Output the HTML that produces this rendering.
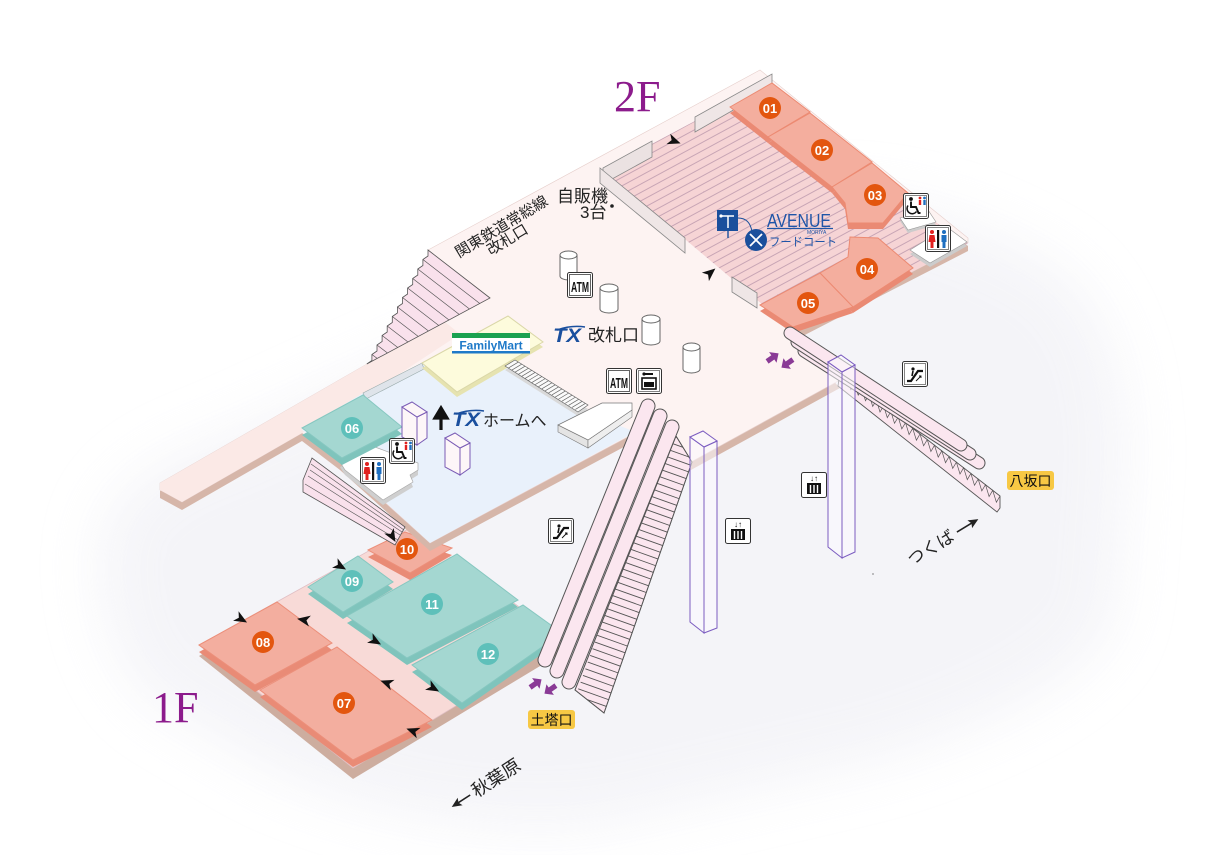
<!DOCTYPE html>
<html><head><meta charset="utf-8">
<style>
html,body{margin:0;padding:0;background:#fff;width:1224px;height:855px;overflow:hidden}
svg{display:block}
text{font-family:"Liberation Sans","Noto Sans CJK JP",sans-serif}
</style></head><body>
<svg width="1224" height="855" viewBox="0 0 1224 855" xmlns="http://www.w3.org/2000/svg">
<defs>
 <filter id="bl" x="-30%" y="-30%" width="160%" height="160%"><feGaussianBlur stdDeviation="28"/></filter>
 <pattern id="fc" width="10" height="7.4" patternUnits="userSpaceOnUse" patternTransform="rotate(-28.4)">
  <rect width="10" height="7.4" fill="#f6d4d5"/><line x1="0" y1="0.5" x2="10" y2="0.5" stroke="#c3a0b2" stroke-width="0.9"/>
 </pattern>
 <clipPath id="esc1"><polygon points="676,436 692,462 604,713 575,690"/></clipPath>
 <path id="dart" d="M7,0 L-6,-5.5 L-2.5,0 L-6,5.5 Z" fill="#111"/>
 <path id="parr" d="M-6,-2.6 L1,-2.6 L1,-6.5 L8,0 L1,6.5 L1,2.6 L-6,2.6 Z" fill="#8a3a96"/>
 <g id="esci">
  <rect x="0.5" y="0.5" width="25" height="25" rx="2" fill="#fff" stroke="#333"/>
  <rect x="2.5" y="2.5" width="21" height="21" fill="none" stroke="#333" stroke-width="0.6"/>
  <path d="M5,20 L9,20 L16,10 L21,10" fill="none" stroke="#111" stroke-width="2.2"/>
  <circle cx="11" cy="8" r="1.6" fill="#111"/><path d="M11,10 L10,15" stroke="#111" stroke-width="1.6"/>
  <path d="M14,20 L19,15 M17,15 L19,15 L19,17" fill="none" stroke="#111" stroke-width="0.9"/>
 </g>
 <g id="elvi">
  <rect x="0.5" y="0.5" width="25" height="25" rx="2" fill="#fff" stroke="#333"/>
  <text x="13" y="9" font-size="8" text-anchor="middle" fill="#111">↓↑</text>
  <rect x="6" y="11" width="14" height="11" fill="#111"/>
  <path d="M9.5,13 V21 M13,13 V21 M16.5,13 V21" stroke="#fff" stroke-width="1.4"/>
 </g>
 <g id="atm">
  <rect x="0.5" y="0.5" width="25" height="25" rx="2" fill="#fff" stroke="#333"/>
  <rect x="2.5" y="2.5" width="21" height="21" fill="none" stroke="#222" stroke-width="0.7"/>
  <text x="13" y="20" font-size="15" font-weight="bold" text-anchor="middle" textLength="18" lengthAdjust="spacingAndGlyphs" fill="#111">ATM</text>
 </g>
 <g id="wc">
  <rect x="0.5" y="0.5" width="25" height="26" rx="2" fill="#fff" stroke="#333"/>
  <rect x="2.5" y="2.5" width="21" height="22" fill="none" stroke="#333" stroke-width="0.6"/>
  <circle cx="7" cy="7" r="2" fill="#e0201f"/><path d="M4.5,10 H9.5 L10.5,17 H8.5 V23 H5.5 V17 H3.5 Z" fill="#e0201f"/>
  <rect x="12" y="5" width="2.2" height="18" fill="#111"/>
  <circle cx="19" cy="7" r="2" fill="#1f6fc0"/><path d="M16.5,10 H21.5 V17 H20.5 V23 H17.5 V17 H16.5 Z" fill="#1f6fc0"/>
 </g>
 <g id="whl">
  <rect x="0.5" y="0.5" width="25" height="25" rx="2" fill="#fff" stroke="#333"/>
  <rect x="2.5" y="2.5" width="21" height="21" fill="none" stroke="#333" stroke-width="0.6"/>
  <circle cx="8" cy="6" r="1.9" fill="#111"/>
  <path d="M8,8.5 V14 H13 L15.5,20 H17.5" fill="none" stroke="#111" stroke-width="1.9"/>
  <path d="M5,12.5 A5.2,5.2 0 1 0 13.5,18.5" fill="none" stroke="#111" stroke-width="1.5"/>
  <circle cx="17" cy="5" r="1.4" fill="#e0201f"/><path d="M15.8,7 H18.2 V12 H15.8 Z" fill="#e0201f"/>
  <circle cx="21.5" cy="5" r="1.4" fill="#1f6fc0"/><path d="M20.3,7 H22.7 V12 H20.3 Z" fill="#1f6fc0"/>
 </g>
</defs>

<rect width="1224" height="855" fill="#fff"/>
<path d="M100,560 Q95,480 220,440 L700,220 Q880,160 1060,270 Q1130,330 1125,470 L1115,610 Q1100,690 880,760 L600,825 Q430,840 270,770 L150,700 Q100,650 100,560 Z" fill="#ececf3" opacity="0.55" filter="url(#bl)"/>

<!-- ===== 1F base ===== -->
<polygon points="199,656 410,539 565,651 353,779" fill="#cdad9f"/>
<polygon points="199,645 410,528 565,640 353,768" fill="#f8dad7" stroke="#e0bfc4" stroke-width="0.8"/>

<!-- 1F shops -->
<polygon points="199,645 277,602 332,643 255,685" fill="#e98b76" transform="translate(0,7)"/>
<polygon points="199,645 277,602 332,643 255,685" fill="#f3ae9f" stroke="#ec8f7a"/>
<polygon points="260,690 337,647 432,720 353,760" fill="#e98b76" transform="translate(0,7)"/>
<polygon points="260,690 337,647 432,720 353,760" fill="#f3ae9f" stroke="#ec8f7a"/>
<polygon points="308,587 358,556 393,582 343,612" fill="#7fc4bc" transform="translate(0,7)"/>
<polygon points="308,587 358,556 393,582 343,612" fill="#a4d7d1" stroke="#86c7c0"/>
<polygon points="368,550 405,532 452,548 410,573" fill="#e98b76" transform="translate(0,7)"/>
<polygon points="368,550 405,532 452,548 410,573" fill="#f3ae9f" stroke="#ec8f7a"/>
<polygon points="347,616 457,554 518,600 407,658" fill="#7fc4bc" transform="translate(0,7)"/>
<polygon points="347,616 457,554 518,600 407,658" fill="#a4d7d1" stroke="#86c7c0"/>
<polygon points="412,665 523,605 562,633 462,703" fill="#7fc4bc" transform="translate(0,7)"/>
<polygon points="412,665 523,605 562,633 462,703" fill="#a4d7d1" stroke="#86c7c0"/>

<!-- 1F numbers -->
<g font-size="13" font-weight="bold" fill="#fff" text-anchor="middle">
 <circle cx="263" cy="642" r="11" fill="#e3560f"/><text x="263" y="647">08</text>
 <circle cx="344" cy="703" r="11" fill="#e3560f"/><text x="344" y="708">07</text>
 <circle cx="352" cy="581" r="11" fill="#5ec0ba"/><text x="352" y="586">09</text>
 <circle cx="407" cy="549" r="11" fill="#e3560f"/><text x="407" y="554">10</text>
 <circle cx="432" cy="604" r="11" fill="#5ec0ba"/><text x="432" y="609">11</text>
 <circle cx="488" cy="654" r="11" fill="#5ec0ba"/><text x="488" y="659">12</text>
</g>

<!-- ===== 2F slab ===== -->
<polygon points="160,483 367,364 490,298 428,250 760,70 968,238 968,243 795,332 840,380 680,468 640,432 635,433 430,543 340,462 302,433 182,502 160,490" fill="#d6b6a9" transform="translate(0,8)"/>
<polygon points="160,483 367,364 490,298 428,250 760,70 968,238 968,243 795,332 840,380 680,468 640,432 635,433 430,543 340,462 302,433 182,502 160,490" fill="#fdf3f2" stroke="#e6cfcc" stroke-width="0.6"/>
<polygon points="160,483 367,364 445,322 460,334 363,398 182,502 160,490" fill="#fbe9e6"/>

<!-- upper-left stair -->
<polygon points="428,250 428,256 422.9,259.5 422.9,265.5 417.8,269 417.8,275 412.7,278.5 412.7,284.5 407.6,288 407.6,294 402.5,297.5 402.5,303.5 397.4,307 397.4,313 392.3,316.5 392.3,322.5 387.2,326 387.2,332 382.1,335.5 382.1,341.5 377,345 377,351 371.9,354.5 371.9,360.5 366.8,364 490,298" fill="#f9e1ec" stroke="#555" stroke-width="0.8"/>
<path d="M422.9,259.5 L479.8,303.5 M417.8,269 L469.5,309 M412.7,278.5 L459.3,314.5 M407.6,288 L449,320 M402.5,297.5 L438.8,325.5 M397.4,307 L428.5,331 M392.3,316.5 L418.3,336.5 M387.2,326 L408,342 M382.1,335.5 L397.8,347.5 M377,345 L387.5,353 M371.9,354.5 L377.3,358.5" stroke="#555" stroke-width="0.7"/>

<!-- stair down to 10 -->
<polygon points="303,480 312,458 405,527 395,545 303,492" fill="#f9e1ec" stroke="#555" stroke-width="0.8"/>
<path d="M305,484 L398,540 M308,476 L400,535 M310,470 L402,532 M311,464 L404,530" stroke="#555" stroke-width="0.6"/>

<!-- blue TX area -->
<polygon points="363,393 422,363 505,360 582,410 635,432 430,543 383,500 342,462 302,430" fill="#e9f1fb"/>
<polygon points="363,393 422,363 424,369 366,399" fill="#dfe4ea" stroke="#9aa" stroke-width="0.6"/>

<!-- toilet white block -->
<polygon points="340,462 375,447 418,463 418,470 410,475 413,482 383,500 345,470" fill="#cfcfcf" transform="translate(0,5)"/>
<polygon points="340,462 375,447 418,463 418,470 410,475 413,482 383,500 345,470" fill="#fff" stroke="#aaa" stroke-width="0.7"/>

<!-- 06 -->
<polygon points="302,428 363,395 402,427 342,458" fill="#7fc4bc" transform="translate(0,7)"/>
<polygon points="302,428 363,395 402,427 342,458" fill="#a4d7d1" stroke="#86c7c0"/>
<circle cx="352" cy="428" r="11" fill="#5ec0ba"/><text x="352" y="433" font-size="13" font-weight="bold" fill="#fff" text-anchor="middle">06</text>

<!-- FamilyMart -->
<polygon points="422,363 508,316 543,342 457,392" fill="#e6e3b0" transform="translate(0,5)"/>
<polygon points="422,363 508,316 543,342 457,392" fill="#fdfbdc" stroke="#dad7a8"/>
<rect x="452" y="333" width="78" height="5" fill="#1aa150"/>
<rect x="452" y="338" width="78" height="14" fill="#fff"/>
<rect x="452" y="351" width="78" height="2.5" fill="#1e79c8"/>
<text x="491" y="349.5" font-size="12" font-weight="bold" fill="#1e79c8" text-anchor="middle">FamilyMart</text>

<!-- gates -->
<polygon points="505,366 515,360 588,405 578,412" fill="#d9d9d9" transform="translate(0,4)"/>
<polygon points="505,366 515,360 588,405 578,412" fill="#fafafa" stroke="#666" stroke-width="0.7"/>
<path d="M508.35,368.07 l10,-6 M511.7,370.14 l10,-6 M515.05,372.21 l10,-6 M518.4,374.28 l10,-6 M521.75,376.35 l10,-6 M525.1,378.42 l10,-6 M528.45,380.49 l10,-6 M531.8,382.56 l10,-6 M535.15,384.63 l10,-6 M538.5,386.7 l10,-6 M541.85,388.77 l10,-6 M545.2,390.84 l10,-6 M548.55,392.91 l10,-6 M551.9,394.98 l10,-6 M555.25,397.05 l10,-6 M558.6,399.12 l10,-6 M561.95,401.19 l10,-6 M565.3,403.26 l10,-6 M568.65,405.33 l10,-6 M572,407.4 l10,-6 M575.35,409.47 l10,-6" stroke="#666" stroke-width="0.7"/>

<!-- white block -->
<polygon points="558,425 588,440 588,448 558,432" fill="#e4e4e4" stroke="#777" stroke-width="0.6"/>
<polygon points="588,440 632,410 632,417 588,448" fill="#eee" stroke="#777" stroke-width="0.6"/>
<polygon points="558,425 602,403 632,403 632,410 588,440" fill="#fff" stroke="#777" stroke-width="0.7"/>

<!-- purple boxes -->
<g fill="#fdf6f8" stroke="#7a5cb5" stroke-width="1">
 <polygon points="402,407 417,417 417,445 402,437"/>
 <polygon points="417,417 427,412 427,438 417,445"/>
 <polygon points="402,407 412,402 427,412 417,417"/>
 <polygon points="445,438 460,448 460,475 445,467"/>
 <polygon points="460,448 470,443 470,468 460,475"/>
 <polygon points="445,438 455,433 470,443 460,448"/>
</g>
<path d="M441,430 V416 M435,418 L441,408 L447,418 Z" stroke="#111" stroke-width="3.2" fill="#111"/>
<text x="452" y="426" font-size="19" font-weight="bold" font-style="italic" fill="#1a4f9e" textLength="28" lengthAdjust="spacingAndGlyphs">TX</text>
<path d="M456,414 Q470,409 484,411" stroke="#1a4f9e" stroke-width="1.5" fill="none"/>
<text x="483" y="426" font-size="16" fill="#222">ホームへ</text>
<use href="#wc" x="360" y="457"/>
<use href="#whl" x="389" y="438"/>

<!-- food court -->
<polygon points="603,170 740,97 968,243 795,332" fill="url(#fc)"/>
<polygon points="695,117 772,74 772,88 695,132" fill="#efe6e6" stroke="#888" stroke-width="0.8"/>
<polygon points="603,168 652,141 652,157 603,184" fill="#ebe2e2" stroke="#888" stroke-width="0.8"/>
<polygon points="600,168 685,238 685,253 600,183" fill="#efe6e6" stroke="#888" stroke-width="0.8"/>
<polygon points="732,277 757,293 757,308 732,292" fill="#efe6e6" stroke="#888" stroke-width="0.8"/>

<!-- 2F shops -->
<g>
 <polygon points="730,107 772,83 810,112 768,137" fill="#ea8a74" transform="translate(0,6)"/>
 <polygon points="730,107 772,83 810,112 768,137" fill="#f4ae9e" stroke="#ec8a72"/>
 <polygon points="768,137 810,113 872,162 832,187" fill="#ea8a74" transform="translate(0,6)"/>
 <polygon points="768,137 810,113 872,162 832,187" fill="#f4ae9e" stroke="#ec8a72"/>
 <polygon points="832,187 872,163 908,193 883,223 848,223 845,203" fill="#ea8a74" transform="translate(0,6)"/>
 <polygon points="832,187 872,163 908,193 883,223 848,223 845,203" fill="#f4ae9e" stroke="#ec8a72"/>
 <polygon points="820,273 848,257 850,237 878,238 913,268 853,307" fill="#ea8a74" transform="translate(0,6)"/>
 <polygon points="820,273 848,257 850,237 878,238 913,268 853,307" fill="#f4ae9e" stroke="#ec8a72"/>
 <polygon points="760,305 820,273 853,307 793,327" fill="#ea8a74" transform="translate(0,6)"/>
 <polygon points="760,305 820,273 853,307 793,327" fill="#f4ae9e" stroke="#ec8a72"/>
</g>
<g font-size="13" font-weight="bold" fill="#fff" text-anchor="middle">
 <circle cx="770" cy="108" r="11" fill="#e3560f"/><text x="770" y="113">01</text>
 <circle cx="822" cy="150" r="11" fill="#e3560f"/><text x="822" y="155">02</text>
 <circle cx="875" cy="195" r="11" fill="#e3560f"/><text x="875" y="200">03</text>
 <circle cx="867" cy="269" r="11" fill="#e3560f"/><text x="867" y="274">04</text>
 <circle cx="808" cy="303" r="11" fill="#e3560f"/><text x="808" y="308">05</text>
</g>

<!-- toilet platforms 2F -->
<polygon points="900,218 928,210 936,222 908,230" fill="#ccc" transform="translate(0,3)"/>
<polygon points="900,218 928,210 936,222 908,230" fill="#fff" stroke="#999" stroke-width="0.6"/>
<polygon points="910,250 947,227 967,242 930,263" fill="#ccc" transform="translate(0,4)"/>
<polygon points="910,250 947,227 967,242 930,263" fill="#fff" stroke="#999" stroke-width="0.6"/>
<use href="#whl" x="903" y="193"/>
<use href="#wc" x="925" y="225"/>

<!-- AVENUE logo -->
<rect x="717" y="210" width="21" height="21" fill="#1a4f9c"/>
<path d="M721,216 H734 M728,216 V228" stroke="#fff" stroke-width="1.5"/><circle cx="721" cy="216" r="1.6" fill="#fff"/>
<path d="M728,231 V238" stroke="#1a4f9c" stroke-width="1.4"/>
<path d="M738,218 Q750,218 752,232" stroke="#1a4f9c" stroke-width="1" fill="none"/>
<circle cx="756" cy="240" r="11" fill="#1a4f9c"/>
<path d="M750,234 L762,246 M762,234 L750,246" stroke="#fff" stroke-width="1.8"/>
<text x="767" y="227" font-size="18" fill="#1f55a8" textLength="64" lengthAdjust="spacingAndGlyphs">AVENUE</text>
<line x1="767" y1="228.5" x2="833" y2="228.5" stroke="#1f55a8" stroke-width="1.2"/>
<text x="807" y="234" font-size="5" fill="#1f55a8">MORIYA</text>
<text x="769" y="246" font-size="12" fill="#1f55a8" textLength="68" lengthAdjust="spacingAndGlyphs">フードコート</text>

<!-- 2F labels -->
<text x="557" y="202" font-size="17" fill="#222">自販機</text>
<text x="580" y="218" font-size="17" fill="#222">3台</text>
<circle cx="612" cy="206" r="1.8" fill="#222"/>
<text transform="translate(504,231) rotate(-31)" font-size="15" fill="#222" text-anchor="middle">関東鉄道常総線</text>
<text transform="translate(510,244) rotate(-31)" font-size="15" fill="#222" text-anchor="middle">改札口</text>

<!-- cylinders -->
<g fill="#fff" stroke="#666" stroke-width="1">
 <path d="M560,255 V276 A8.5,4 0 0 0 577,276 V255"/><ellipse cx="568.5" cy="255" rx="8.5" ry="4"/>
 <path d="M600,288 V309 A9,4 0 0 0 618,309 V288"/><ellipse cx="609" cy="288" rx="9" ry="4"/>
 <path d="M642,319 V341 A9,4 0 0 0 660,341 V319"/><ellipse cx="651" cy="319" rx="9" ry="4"/>
 <path d="M683,347 V369 A8.5,4 0 0 0 700,369 V347"/><ellipse cx="691.5" cy="347" rx="8.5" ry="4"/>
</g>
<use href="#atm" x="567" y="272"/>
<use href="#atm" x="606" y="368"/>
<g transform="translate(636,368)">
 <rect x="0.5" y="0.5" width="25" height="25" rx="2" fill="#fff" stroke="#333"/>
 <rect x="2.5" y="2.5" width="21" height="21" fill="none" stroke="#333" stroke-width="0.6"/>
 <rect x="6" y="10" width="14" height="11" fill="#fff" stroke="#111" stroke-width="1.6"/>
 <rect x="8" y="14" width="10" height="5" fill="#111"/>
 <path d="M8,6 H17" stroke="#111" stroke-width="2"/><circle cx="8" cy="6" r="1.6" fill="#111"/>
</g>
<text x="553" y="342" font-size="19" font-weight="bold" font-style="italic" fill="#1a4f9e" textLength="28" lengthAdjust="spacingAndGlyphs">TX</text>
<path d="M557,330 Q571,325 585,327" stroke="#1a4f9e" stroke-width="1.5" fill="none"/>
<text x="588" y="341" font-size="17" fill="#222">改札口</text>

<!-- black darts -->
<use href="#dart" transform="translate(674,141) rotate(20)"/>
<use href="#dart" transform="translate(710,273) rotate(-40)"/>
<use href="#dart" transform="translate(241,619) rotate(30)"/>
<use href="#dart" transform="translate(304,620) rotate(190)"/>
<use href="#dart" transform="translate(375,641) rotate(30)"/>
<use href="#dart" transform="translate(387,683) rotate(200)"/>
<use href="#dart" transform="translate(433,688) rotate(30)"/>
<use href="#dart" transform="translate(413,731) rotate(200)"/>
<use href="#dart" transform="translate(340,566) rotate(30)"/>
<use href="#dart" transform="translate(392,536) rotate(60)"/>

<!-- escalator 1 (1F-2F) -->
<polygon points="676,436 692,462 604,713 575,690" fill="#fbe6ef" stroke="#555" stroke-width="0.9"/>
<g clip-path="url(#esc1)"><line x1="685" y1="440" x2="588" y2="712" stroke="#555" stroke-width="34" stroke-dasharray="0.9 6.2"/></g>
<polygon points="676,436 692,462 604,713 575,690" fill="none" stroke="#555" stroke-width="0.9"/>
<line x1="672" y1="427" x2="569" y2="682" stroke="#555" stroke-width="15" stroke-linecap="round"/>
<line x1="672" y1="427" x2="569" y2="682" stroke="#fbe6ef" stroke-width="13" stroke-linecap="round"/>
<line x1="660" y1="416" x2="557" y2="671" stroke="#555" stroke-width="15" stroke-linecap="round"/>
<line x1="660" y1="416" x2="557" y2="671" stroke="#fbe6ef" stroke-width="13" stroke-linecap="round"/>
<line x1="648" y1="406" x2="545" y2="660" stroke="#555" stroke-width="15" stroke-linecap="round"/>
<line x1="648" y1="406" x2="545" y2="660" stroke="#fbe6ef" stroke-width="13" stroke-linecap="round"/>

<!-- escalator 2 (2F-八坂口) -->
<polygon points="840,372 1000,496 1000,508 997,512 838,386" fill="#fbe6ef" stroke="#555" stroke-width="0.9"/>
<polyline points="840,372 843.6,383.8 847.3,377.6 850.9,389.5 854.5,383.3 858.2,395.1 861.8,388.9 865.5,400.7 869.1,394.5 872.7,406.4 876.4,400.2 880,412 883.6,405.8 887.3,417.6 890.9,411.5 894.5,423.3 898.2,417.1 901.8,428.9 905.5,422.7 909.1,434.5 912.7,428.4 916.4,440.2 920,434 923.6,445.8 927.3,439.6 930.9,451.5 934.5,445.3 938.2,457.1 941.8,450.9 945.5,462.7 949.1,456.5 952.7,468.4 956.4,462.2 960,474 963.6,467.8 967.3,479.6 970.9,473.5 974.5,485.3 978.2,479.1 981.8,490.9 985.5,484.7 989.1,496.5 992.7,490.4 996.4,502.2 1000,496" fill="none" stroke="#555" stroke-width="0.7"/>
<line x1="804" y1="351" x2="979" y2="463" stroke="#555" stroke-width="13" stroke-linecap="round"/>
<line x1="804" y1="351" x2="979" y2="463" stroke="#fbe6ef" stroke-width="11" stroke-linecap="round"/>
<line x1="797" y1="342" x2="970" y2="454" stroke="#555" stroke-width="13" stroke-linecap="round"/>
<line x1="797" y1="342" x2="970" y2="454" stroke="#fbe6ef" stroke-width="11" stroke-linecap="round"/>
<line x1="790" y1="333" x2="961" y2="445" stroke="#555" stroke-width="13" stroke-linecap="round"/>
<line x1="790" y1="333" x2="961" y2="445" stroke="#fbe6ef" stroke-width="11" stroke-linecap="round"/>

<!-- elevator shafts -->
<g fill="#fbfaff" fill-opacity="0.55" stroke="#7b5cc0" stroke-width="1">
 <polygon points="690,437 704,447 704,633 690,622"/>
 <polygon points="704,447 717,441 717,628 704,633"/>
 <polygon points="690,437 703,431 717,441 704,447"/>
 <polygon points="828,362 842,372 842,558 828,547"/>
 <polygon points="842,372 855,365 855,552 842,558"/>
 <polygon points="828,362 841,355 855,365 842,372"/>
</g>

<!-- icons -->
<use href="#esci" x="548" y="518"/>
<use href="#esci" x="902" y="361"/>
<use href="#elvi" x="725" y="518"/>
<use href="#elvi" x="801" y="472"/>

<!-- purple arrows -->
<use href="#parr" transform="translate(772,358) rotate(-35)"/>
<use href="#parr" transform="translate(788,363) rotate(145)"/>
<use href="#parr" transform="translate(535,684) rotate(-35)"/>
<use href="#parr" transform="translate(551,689) rotate(145)"/>

<!-- exits -->
<rect x="1007" y="471" width="47" height="19" rx="3" fill="#f7c844"/>
<text x="1030.5" y="486" font-size="14" fill="#111" text-anchor="middle">八坂口</text>
<rect x="528" y="710" width="47" height="19" rx="3" fill="#f7c844"/>
<text x="551.5" y="725" font-size="14" fill="#111" text-anchor="middle">土塔口</text>

<!-- directions -->
<g transform="translate(912,566) rotate(-31)">
 <text x="0" y="0" font-size="17" fill="#222">つくば</text>
 <line x1="56" y1="-6" x2="74" y2="-6" stroke="#222" stroke-width="1.6"/>
 <path d="M81,-6 L71,-10.5 L73,-6 L71,-1.5 Z" fill="#222"/>
</g>
<g transform="translate(455,812) rotate(-33)">
 <line x1="6" y1="-6" x2="22" y2="-6" stroke="#222" stroke-width="1.6"/>
 <path d="M0,-6 L10,-10.5 L8,-6 L10,-1.5 Z" fill="#222"/>
 <text x="26" y="0" font-size="18" fill="#222">秋葉原</text>
</g>

<!-- floor labels -->
<text x="614" y="111" font-size="44" style="font-family:'Liberation Serif',serif" fill="#8c1b8c">2F</text>
<text x="152" y="722" font-size="44" style="font-family:'Liberation Serif',serif" fill="#8c1b8c">1F</text>
<circle cx="873" cy="574" r="0.6" fill="#333"/>
</svg>
</body></html>
